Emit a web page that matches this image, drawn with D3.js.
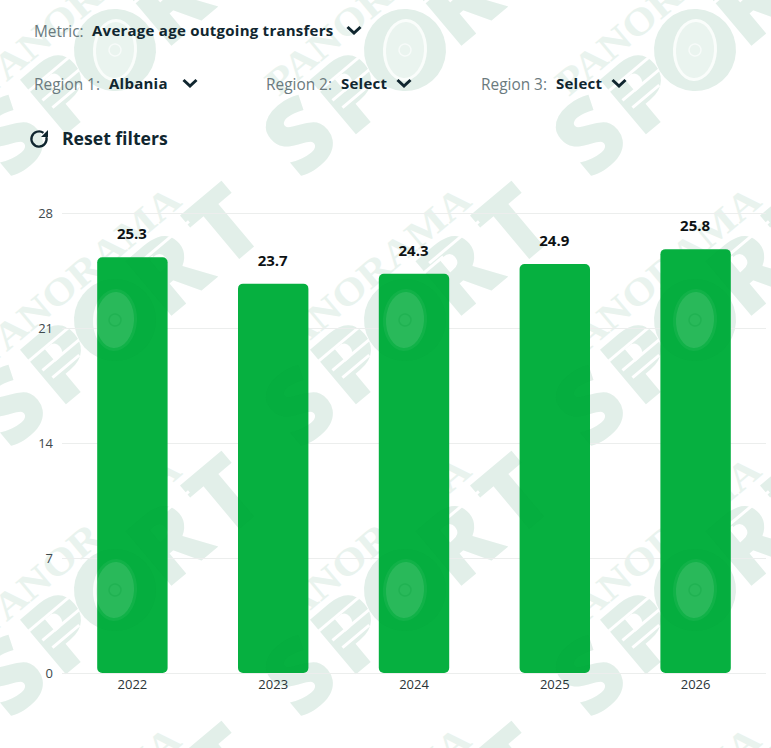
<!DOCTYPE html>
<html>
<head>
<meta charset="utf-8">
<script src="https://cdn.jsdelivr.net/npm/d3@7"></script>
<style>
  html, body { margin: 0; padding: 0; background: #fff; }
  svg { display: block; font-family: "Open Sans", sans-serif; }
</style>
</head>
<body>
<svg id="chart" width="771" height="748"></svg>
<script>
const years = ["2022", "2023", "2024", "2025", "2026"];
const averageAge = [25.3, 23.7, 24.3, 24.9, 25.8];
const yTicks = [0, 7, 14, 21, 28];
const filterRows = [
  { label: "Metric:", value: "Average age outgoing transfers", x: 34, valueX: 92, chevronX: 354, y: 37 },
  { label: "Region 1:", value: "Albania", x: 34, valueX: 109, chevronX: 190, y: 90 },
  { label: "Region 2:", value: "Select", x: 266, valueX: 341, chevronX: 404, y: 90 },
  { label: "Region 3:", value: "Select", x: 481, valueX: 556, chevronX: 619, y: 90 }
];
const brandLetters = [["S", -136], ["P", -68], ["R", 72], ["T", 144]];
const brandColumns = [115, 405, 695];
const brandRows = [50, 320, 590, 860];

const svg = d3.select("#chart");
const x = d3.scaleBand().domain(years).range([62, 766]).paddingInner(0.5).paddingOuter(0.25);
const y = d3.scaleLinear().domain([0, 28]).range([673, 213]);

// One repeated brand stamp: rotated wordmark with the wheel standing in for the O.
function stamp(parent, cx, cy, style) {
  const g = parent.append("g").attr("transform", `translate(${cx},${cy}) rotate(-40)`);
  g.selectAll("text.letter").data(brandLetters).join("text")
    .attr("class", "letter")
    .attr("x", d => d[1]).attr("y", 33)
    .attr("text-anchor", "middle")
    .attr("font-size", 100).attr("font-weight", 800)
    .attr("fill", style.heavy).attr("fill-opacity", style.heavyOpacity)
    .text(d => d[0]);
  g.append("text")
    .attr("x", -127).attr("y", -45)
    .attr("textLength", 254).attr("lengthAdjust", "spacingAndGlyphs")
    .attr("font-family", "Liberation Serif").attr("font-size", 38).attr("font-weight", 700)
    .attr("fill", style.thin).attr("fill-opacity", style.thinOpacity)
    .text("PANORAMA");
  if (style.streak) {
    g.selectAll("line").data([[-100, -24, 70, -24], [-85, 4, -50, 4], [-88, -8, -38, -8], [55, -28, 120, -28]]).join("line")
      .attr("x1", d => d[0]).attr("y1", d => d[1]).attr("x2", d => d[2]).attr("y2", d => d[3])
      .attr("stroke", style.streak).attr("stroke-width", 3);
  }
  const w = parent.append("g").attr("transform", `translate(${cx},${cy}) rotate(3)`);
  w.append("circle").attr("r", 41).attr("fill", style.heavy).attr("fill-opacity", style.heavyOpacity);
  w.append("ellipse").attr("rx", 22).attr("ry", 31).attr("fill", style.ring).attr("fill-opacity", style.ringOpacity);
  w.append("ellipse").attr("rx", 19).attr("ry", 28).attr("fill", style.core).attr("fill-opacity", style.coreOpacity);
  w.append("circle").attr("r", 6).attr("fill", "none").attr("stroke", style.hub).attr("stroke-opacity", style.hubOpacity).attr("stroke-width", 1.5);
}

function stampAll(parent, style) {
  brandColumns.forEach(cx => brandRows.forEach(cy => stamp(parent, cx, cy, style)));
}

// Watermark on the page background.
stampAll(svg.append("g").attr("class", "watermark"), {
  heavy: "#e2efe9", heavyOpacity: 1, thin: "#e9f3ee", thinOpacity: 1, streak: "#ffffff",
  ring: "#fafdfb", ringOpacity: 1, core: "#eaf4ef", coreOpacity: 1, hub: "#f7fbf9", hubOpacity: 1
});

// Horizontal grid and y axis.
const yAxis = svg.append("g").attr("transform", "translate(62,0)")
  .call(d3.axisLeft(y).tickValues(yTicks).tickSize(0).tickPadding(9).tickSizeInner(-704));
yAxis.select(".domain").remove();
yAxis.selectAll(".tick line").attr("stroke", "#eceeed").attr("stroke-width", 1);
yAxis.selectAll(".tick text")
  .attr("font-family", "Open Sans").attr("font-size", 13).attr("fill", "#3e4a4d").attr("x", -9);

// Bars.
svg.append("clipPath").attr("id", "barClip")
  .selectAll("rect").data(years).join("rect")
  .attr("x", d => x(d)).attr("width", x.bandwidth())
  .attr("y", (d, i) => y(averageAge[i])).attr("height", (d, i) => y(0) - y(averageAge[i]))
  .attr("rx", 5);
svg.append("g").selectAll("rect").data(years).join("rect")
  .attr("x", d => x(d)).attr("width", x.bandwidth())
  .attr("y", (d, i) => y(averageAge[i])).attr("height", (d, i) => y(0) - y(averageAge[i]))
  .attr("rx", 5).attr("fill", "#06b040");

// The stamp shows through the bars only faintly.
stampAll(svg.append("g").attr("clip-path", "url(#barClip)"), {
  heavy: "#00602a", heavyOpacity: 0.028, thin: "#ffffff", thinOpacity: 0.02, streak: null,
  ring: "#ffffff", ringOpacity: 0.05, core: "#ffffff", coreOpacity: 0.1, hub: "#06a03c", hubOpacity: 0.25
});

// Value labels above the bars.
svg.append("g").selectAll("text").data(years).join("text")
  .attr("x", d => x(d) + x.bandwidth() / 2 - 0.5)
  .attr("y", (d, i) => y(averageAge[i]) - 18)
  .attr("text-anchor", "middle")
  .attr("font-size", 15).attr("font-weight", 700).attr("fill", "#0d1214")
  .text((d, i) => averageAge[i].toFixed(1));

// Category axis.
const xAxis = svg.append("g").attr("transform", "translate(0,673)")
  .call(d3.axisBottom(x).tickSize(0).tickPadding(7));
xAxis.select(".domain").remove();
xAxis.selectAll(".tick text")
  .attr("font-family", "Open Sans").attr("font-size", 13).attr("fill", "#2b3437");

// Filter row above the chart.
const filters = svg.append("g").selectAll("g").data(filterRows).join("g");
filters.append("text")
  .attr("x", d => d.x).attr("y", d => d.y)
  .attr("font-size", 15.4).attr("fill", "#6a7a7e").text(d => d.label);
filters.append("text")
  .attr("x", d => d.valueX).attr("y", d => d.y - 1)
  .attr("font-size", 15).attr("font-weight", 700).attr("letter-spacing", 0.25).attr("fill", "#10262f")
  .text(d => d.value);
filters.append("path")
  .attr("d", d => `M${d.chevronX - 6.5},${d.y - 10}L${d.chevronX},${d.y - 4}L${d.chevronX + 6.5},${d.y - 10}`)
  .attr("fill", "none").attr("stroke", "#10262f").attr("stroke-width", 3);

// Reset control.
const resetArc = d3.arc().innerRadius(7.6).outerRadius(7.6).startAngle(Math.PI * 0.42).endAngle(Math.PI * 2.2);
svg.append("path").attr("transform", "translate(39,139)").attr("d", resetArc())
  .attr("fill", "none").attr("stroke", "#10262f").attr("stroke-width", 2.3);
svg.append("path").attr("d", "M48,130L48,137L41,137Z").attr("fill", "#10262f");
svg.append("text").attr("x", 62).attr("y", 145)
  .attr("font-size", 17.6).attr("font-weight", 700).attr("fill", "#10262f").text("Reset filters");
</script>
</body>
</html>
